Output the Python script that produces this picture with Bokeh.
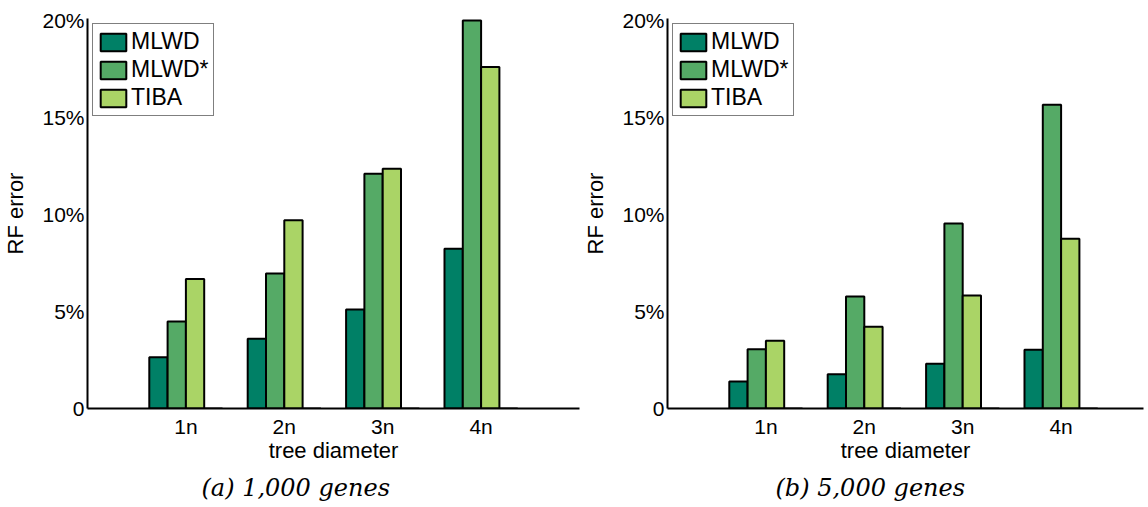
from bokeh.plotting import figure
from bokeh.models import (ColumnDataSource, FixedTicker, Legend, LegendItem,
                          Title, Range1d)
from bokeh.layouts import row
from bokeh.transform import dodge
from bokeh.embed import file_html
from bokeh.resources import INLINE

# ---------------- data ----------------
diameters = ["1n", "2n", "3n", "4n"]
series = ["MLWD", "MLWD*", "TIBA"]

# (a) 1,000 genes -- RF error in percent
a_mlwd = [2.64, 3.59, 5.10, 8.23]
a_mlwd_star = [4.48, 6.96, 12.10, 20.00]
a_tiba = [6.68, 9.70, 12.36, 17.60]

# (b) 5,000 genes -- RF error in percent
b_mlwd = [1.39, 1.77, 2.30, 3.03]
b_mlwd_star = [3.06, 5.77, 9.54, 15.65]
b_tiba = [3.49, 4.21, 5.82, 8.75]

# fourth (empty) series of the grouped bar chart
empty = [0, 0, 0, 0]

y_ticks = [0, 5, 10, 15, 20]
y_tick_labels = ["0", "5%", "10%", "15%", "20%"]
captions = ["(a) 1,000 genes", "(b) 5,000 genes"]
colors = ["#008066", "#55AA66", "#AAD466", "#FFFF66"]

SANS = "Liberation Sans"
BAR_W = 0.186


def make_panel(vals, frame_w, border_left, x_end, caption, cap_offset):
    xs = list(range(1, len(diameters) + 1))
    src = ColumnDataSource(dict(x=xs, s0=vals[0], s1=vals[1], s2=vals[2], s3=empty))
    p = figure(frame_width=frame_w, frame_height=390,
               output_backend="svg", toolbar_location=None,
               x_range=Range1d(0, x_end), y_range=Range1d(0, 20.1),
               min_border_left=border_left, min_border_right=1,
               min_border_top=18, min_border_bottom=95)
    p.outline_line_color = None
    p.xgrid.visible = False
    p.ygrid.visible = False

    renderers = []
    for i, col in enumerate(["s0", "s1", "s2", "s3"]):
        off = (i - 1.5) * BAR_W
        r = p.vbar(x=dodge("x", off, range=p.x_range), top=col, width=BAR_W,
                   source=src, fill_color=colors[i], line_color="black",
                   line_width=2)
        renderers.append(r)

    legend = Legend(items=[LegendItem(label=series[i], renderers=[renderers[i]])
                           for i in range(3)],
                    location="top_left")
    legend.label_text_font = SANS
    legend.label_text_font_size = "23px"
    legend.label_text_color = "black"
    legend.glyph_width = 32
    legend.glyph_height = 22
    legend.label_height = 22
    legend.label_standoff = 2
    legend.spacing = 1
    legend.padding = 4
    legend.margin = 5
    legend.border_line_color = "black"
    legend.border_line_width = 1
    legend.background_fill_alpha = 1
    p.add_layout(legend)

    # x axis
    xa = p.xaxis[0]
    xa.ticker = FixedTicker(ticks=xs)
    xa.major_label_overrides = {x: d for x, d in zip(xs, diameters)}
    xa.axis_label = "tree diameter"
    # y axis
    ya = p.yaxis[0]
    ya.ticker = FixedTicker(ticks=y_ticks)
    ya.major_label_overrides = {t: l for t, l in zip(y_ticks, y_tick_labels)}
    ya.axis_label = "RF error"
    for ax in (xa, ya):
        ax.axis_line_width = 2
        ax.axis_line_color = "black"
        ax.major_tick_line_color = None
        ax.minor_tick_line_color = None
        ax.major_label_text_font = SANS
        ax.major_label_text_font_size = "21px"
        ax.major_label_text_color = "black"
        ax.axis_label_text_font = SANS
        ax.axis_label_text_font_size = "22px"
        ax.axis_label_text_font_style = "normal"
        ax.axis_label_text_color = "black"
    xa.major_label_standoff = 0
    xa.axis_label_standoff = -3
    ya.major_label_standoff = -3
    ya.axis_label_standoff = 11

    cap = Title(text=caption, align="left", offset=cap_offset,
                text_font="DejaVu Serif", text_font_style="italic",
                text_font_size="24px", text_color="black", standoff=12)
    p.add_layout(cap, "below")
    return p


p1 = make_panel([a_mlwd, a_mlwd_star, a_tiba], 492, 79, 5.0, captions[0], 114)
p2 = make_panel([b_mlwd, b_mlwd_star, b_tiba], 476, 83, 476 / 98.4, captions[1], 108)

layout = row(p1, p2)
open("out.html", "w").write(file_html(layout, INLINE))
